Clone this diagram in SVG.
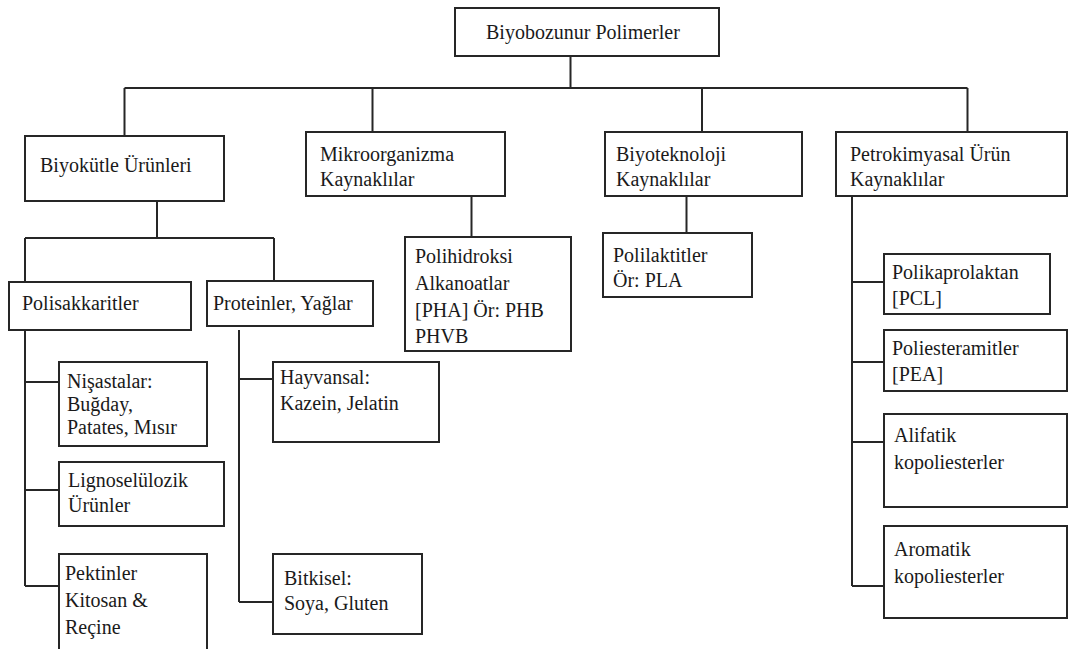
<svg xmlns="http://www.w3.org/2000/svg" width="1070" height="649" viewBox="0 0 1070 649">
<style>
rect.b{fill:#fff;stroke:#262626;stroke-width:2}
#connectors path{fill:none;stroke:#262626;stroke-width:2}
text{font-family:"Liberation Serif","Times New Roman",serif;fill:#1a1a1a;font-size:20px}
</style>
<rect width="1070" height="649" fill="#fff"/>
<g id="connectors">
<path d="M570.5 56V88M124.5 88H967.5M124.5 88V136M372.5 88V132M702 88V132M967.5 88V132"/>
<path d="M157 201V238M25 238H274M25 238V282M274 238V281"/>
<path d="M25 330V586M25 382H59M25 490H59M25 586H59"/>
<path d="M239 330V602M239 379H273M239 602H273"/>
<path d="M471.5 196V237"/>
<path d="M686.5 196V233"/>
<path d="M852 196V586M852 282H884M852 362H884M852 442H884M852 586H884"/>
</g>
<g id="n-root"><rect class="b" x="455" y="8" width="264" height="48"/><text x="486" y="39">Biyobozunur Polimerler</text></g>
<g id="n-biyokutle"><rect class="b" x="25" y="136" width="199" height="65"/><text x="40" y="172">Biyokütle Ürünleri</text></g>
<g id="n-mikro"><rect class="b" x="306" y="132" width="199" height="64"/><text x="320" y="161">Mikroorganizma</text><text x="320" y="186">Kaynaklılar</text></g>
<g id="n-biyotek"><rect class="b" x="605" y="132" width="197" height="64"/><text x="616" y="161">Biyoteknoloji</text><text x="616" y="186">Kaynaklılar</text></g>
<g id="n-petro"><rect class="b" x="836" y="132" width="231" height="64"/><text x="850" y="161">Petrokimyasal Ürün</text><text x="850" y="186">Kaynaklılar</text></g>
<g id="n-polisakkarit"><rect class="b" x="9" y="282" width="182" height="48"/><text x="22" y="310">Polisakkaritler</text></g>
<g id="n-protein"><rect class="b" x="207" y="281" width="166" height="45"/><text x="213" y="310">Proteinler, Yağlar</text></g>
<g id="n-nisasta"><rect class="b" x="59" y="362" width="148" height="84"/><text x="67" y="388">Nişastalar:</text><text x="67" y="411">Buğday,</text><text x="67" y="434">Patates, Mısır</text></g>
<g id="n-ligno"><rect class="b" x="59" y="462" width="165" height="64"/><text x="68" y="487">Lignoselülozik</text><text x="68" y="512">Ürünler</text></g>
<g id="n-pektin"><rect class="b" x="59" y="554" width="148" height="110"/><text x="65" y="580">Pektinler</text><text x="65" y="607">Kitosan &amp;</text><text x="65" y="634">Reçine</text></g>
<g id="n-hayvansal"><rect class="b" x="273" y="362" width="166" height="80"/><text x="280" y="384">Hayvansal:</text><text x="280" y="410">Kazein, Jelatin</text></g>
<g id="n-bitkisel"><rect class="b" x="273" y="554" width="149" height="80"/><text x="284" y="585">Bitkisel:</text><text x="284" y="610">Soya, Gluten</text></g>
<g id="n-pha"><rect class="b" x="405" y="237" width="166" height="114"/><text x="415" y="263">Polihidroksi</text><text x="415" y="290">Alkanoatlar</text><text x="415" y="317">[PHA] Ör: PHB</text><text x="415" y="343">PHVB</text></g>
<g id="n-pla"><rect class="b" x="603" y="233" width="149" height="64"/><text x="613" y="262">Polilaktitler</text><text x="613" y="287">Ör: PLA</text></g>
<g id="n-pcl"><rect class="b" x="884" y="254" width="166" height="60"/><text x="892" y="279">Polikaprolaktan</text><text x="892" y="305">[PCL]</text></g>
<g id="n-pea"><rect class="b" x="884" y="330" width="183" height="61"/><text x="892" y="355">Poliesteramitler</text><text x="892" y="381">[PEA]</text></g>
<g id="n-alifatik"><rect class="b" x="884" y="414" width="183" height="93"/><text x="894" y="442">Alifatik</text><text x="894" y="469">kopoliesterler</text></g>
<g id="n-aromatik"><rect class="b" x="884" y="526" width="183" height="92"/><text x="894" y="556">Aromatik</text><text x="894" y="583">kopoliesterler</text></g>
</svg>
